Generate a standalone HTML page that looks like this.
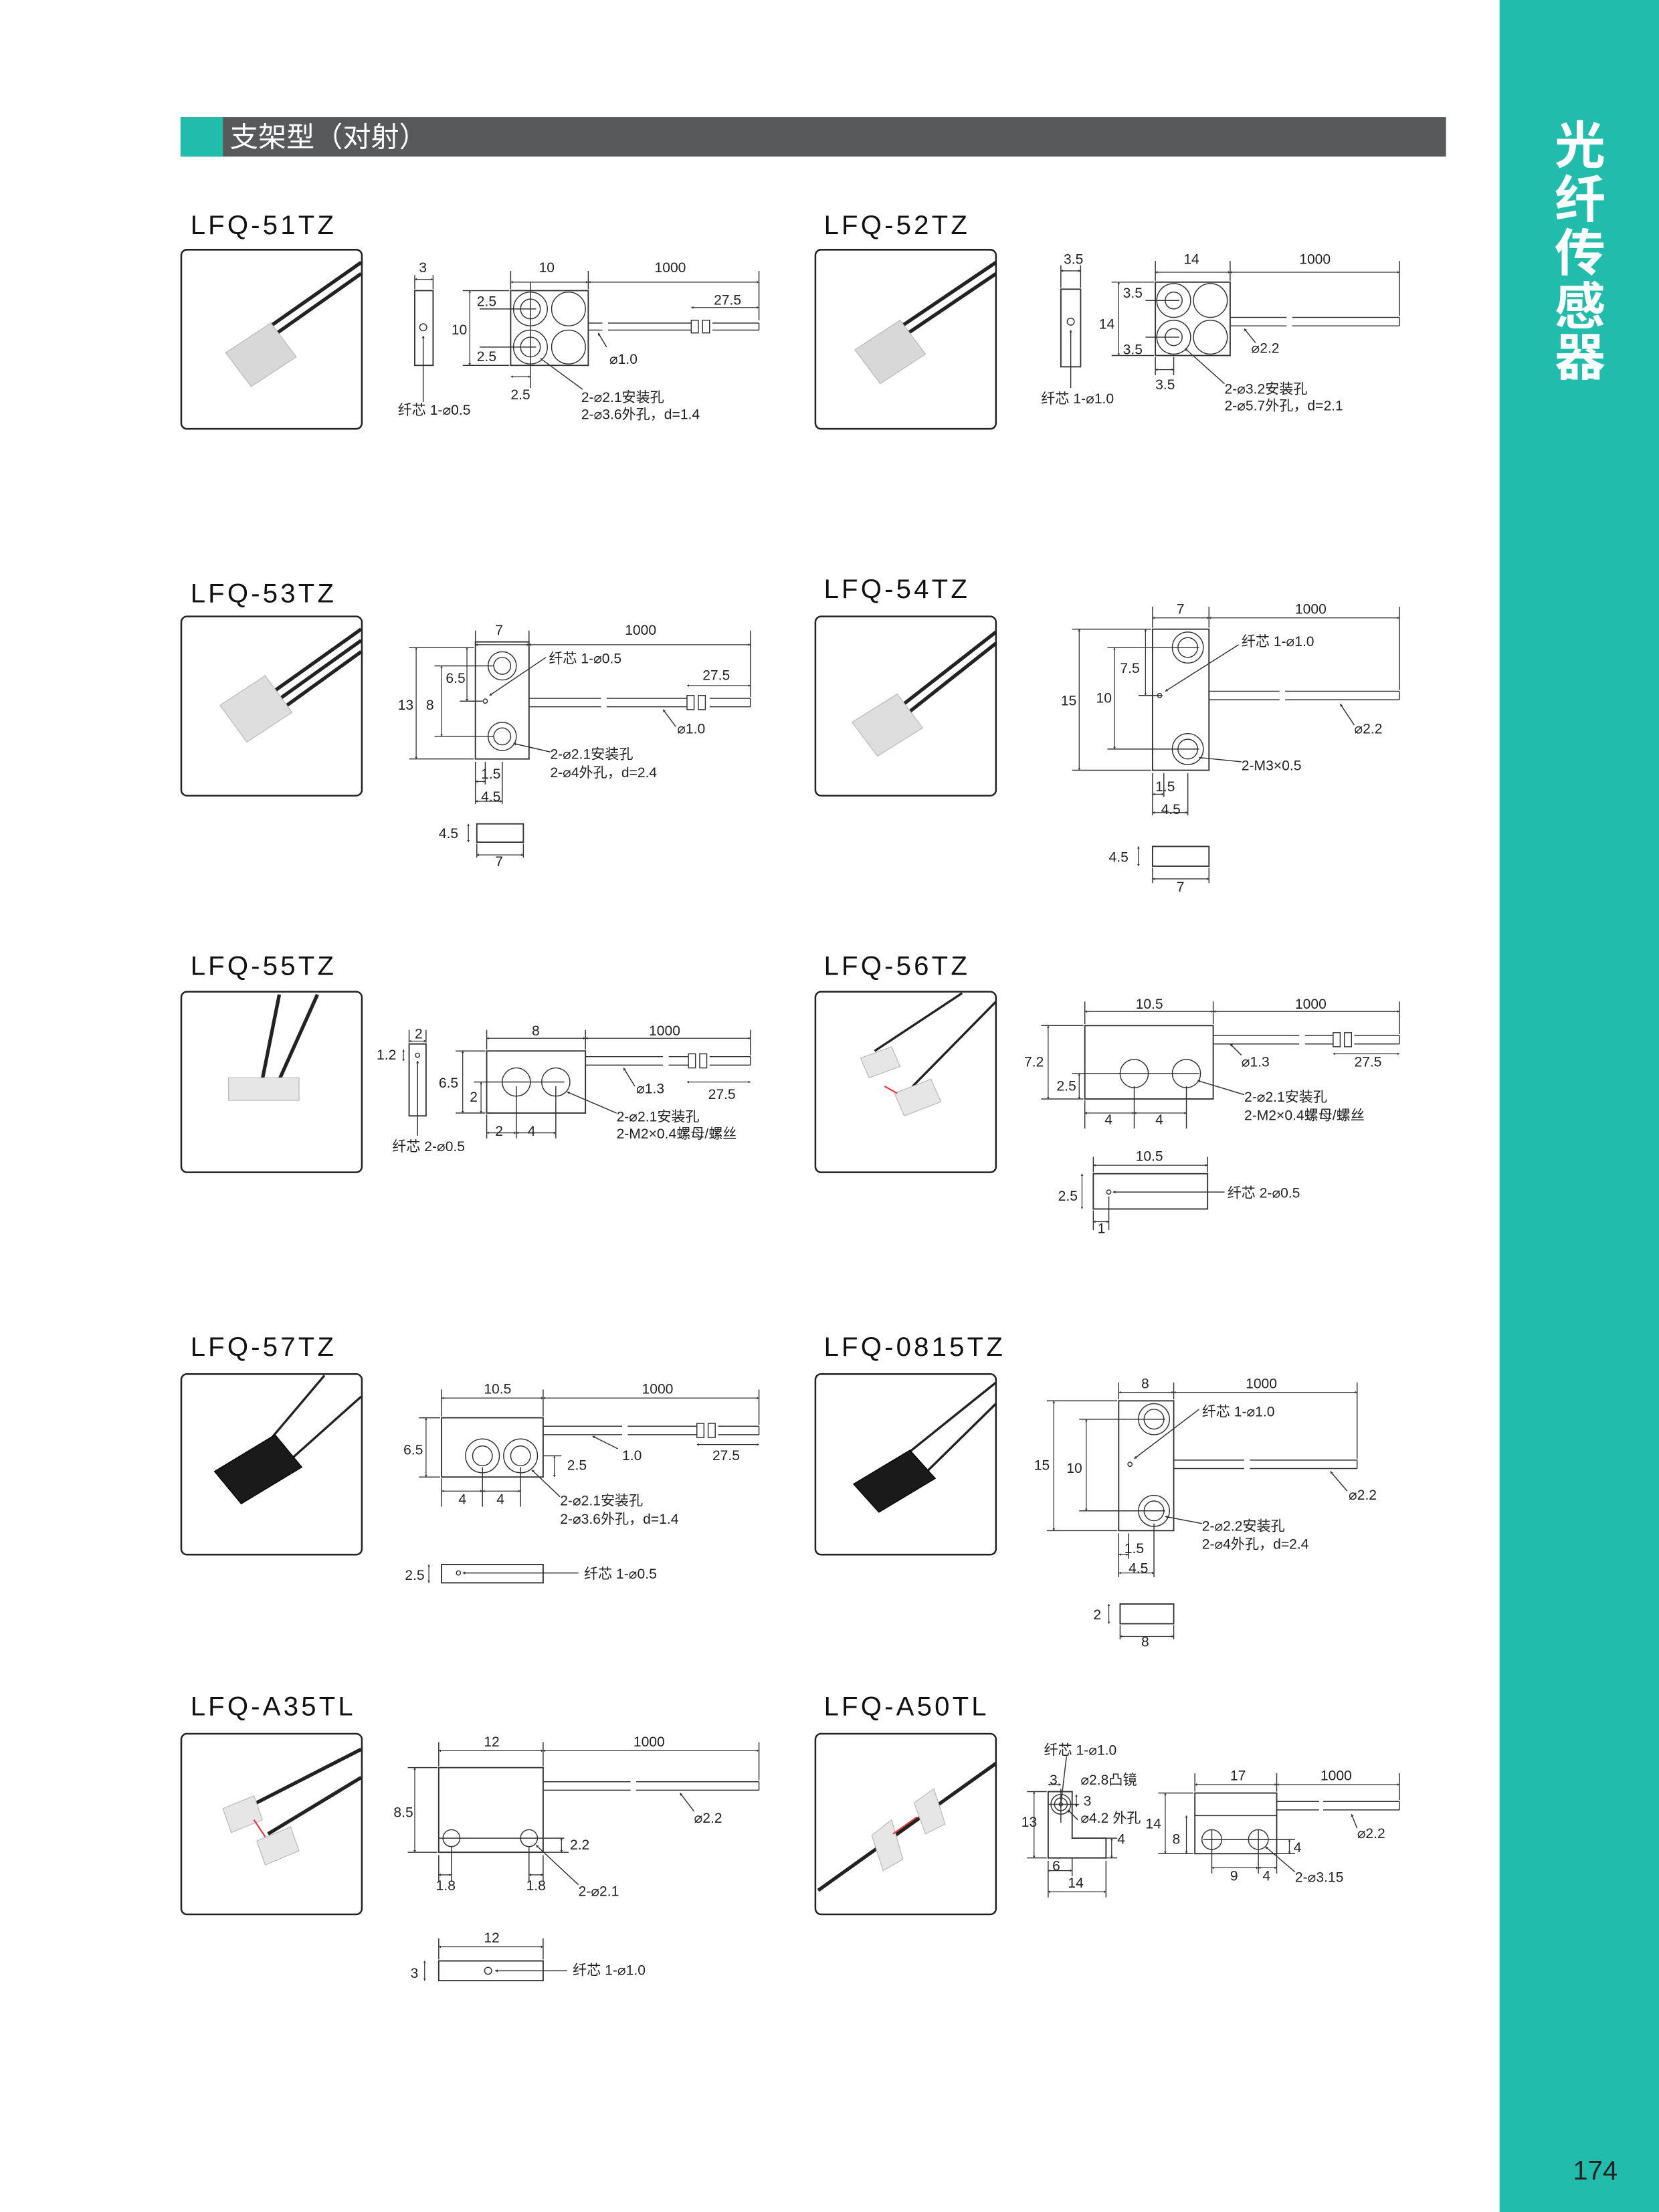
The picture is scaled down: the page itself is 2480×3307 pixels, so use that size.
<!DOCTYPE html>
<html><head><meta charset="utf-8">
<style>
html,body{margin:0;padding:0;background:#fff;}
svg{display:block;}
text{font-family:"Liberation Sans","Noto Sans CJK SC",sans-serif;fill:#222;font-size:10px;}
.t{font-size:19px;letter-spacing:2px;fill:#111;}
.l{stroke:#333;stroke-width:0.7;fill:none;}
.b{stroke:#333;stroke-width:0.9;fill:#fff;}
.d{stroke:#333;stroke-width:0.6;fill:none;marker-start:url(#a);marker-end:url(#a);}
.p{stroke:#222;stroke-width:1.2;fill:#fff;}
</style></head><body>
<svg width="2480" height="3307" viewBox="0 0 1176 1568" preserveAspectRatio="none" xmlns="http://www.w3.org/2000/svg">
<defs>
<marker id="a" viewBox="0 0 10 10" refX="5" refY="5" markerWidth="5" markerHeight="5" orient="auto-start-reverse"><path d="M0,2 L5,5 L0,8 Z" fill="#333"/></marker>
</defs>
<rect x="0" y="0" width="1176" height="1568" fill="#fff"/>
<!-- sidebar -->
<rect x="1063" y="0" width="113" height="1568" fill="#22bcad"/>
<g style="font-size:36px;font-weight:bold" >
<text x="1102" y="116" style="font-size:36px;font-weight:bold;fill:#fff">光</text>
<text x="1102" y="154" style="font-size:36px;font-weight:bold;fill:#fff">纤</text>
<text x="1102" y="192" style="font-size:36px;font-weight:bold;fill:#fff">传</text>
<text x="1102" y="230" style="font-size:36px;font-weight:bold;fill:#fff">感</text>
<text x="1102" y="266" style="font-size:36px;font-weight:bold;fill:#fff">器</text>
</g>
<text x="1115" y="1545" style="font-size:19px;fill:#222">174</text>
<!-- header -->
<rect x="128" y="83" width="897" height="28" fill="#58595b"/>
<rect x="128" y="83" width="30" height="28" fill="#22bcad"/>
<text x="163" y="104" style="font-size:20px;fill:#fff">支架型（对射）</text>

<!-- photo boxes -->
<g>
<rect x="128.5" y="177" width="128" height="127" rx="4" class="p"/>
<rect x="578" y="177" width="128" height="127" rx="4" class="p"/>
<rect x="128.5" y="437" width="128" height="127" rx="4" class="p"/>
<rect x="578" y="437" width="128" height="127" rx="4" class="p"/>
<rect x="128.5" y="703" width="128" height="128" rx="4" class="p"/>
<rect x="578" y="703" width="128" height="128" rx="4" class="p"/>
<rect x="128.5" y="974" width="128" height="128" rx="4" class="p"/>
<rect x="578" y="974" width="128" height="128" rx="4" class="p"/>
<rect x="128.5" y="1229" width="128" height="128" rx="4" class="p"/>
<rect x="578" y="1229" width="128" height="128" rx="4" class="p"/>
</g>
<!-- photo contents -->
<g stroke="#222" stroke-width="2.5" fill="none">
<path d="M182,238 L256,186 M188,242 L256,194"/>
<path d="M632,236 L706,186 M638,240 L706,194"/>
<path d="M183,498 L256,446 M189,502 L256,454 M195,506 L256,462"/>
<path d="M633,505 L706,448 M639,509 L706,456"/>
<path d="M185,770 L198,705 M195,772 L225,705"/>
<path d="M620,745 L682,704 M647,770 L706,710" stroke-width="1.6"/>
<path d="M175,1040 L230,975 M200,1040 L256,990" stroke-width="1.6"/>
<path d="M625,1045 L706,980 M650,1050 L706,995" stroke-width="1.6"/>
<path d="M168,1285 L256,1240 M190,1300 L256,1260"/>
<path d="M580,1340 L706,1250" stroke-width="2.5"/>
</g>
<g stroke="#bbb" stroke-width="0.6">
<path d="M160,250 L192,229 L210,253 L178,274 Z" fill="#d8d8d8"/>
<path d="M606,248 L638,227 L656,251 L624,272 Z" fill="#d8d8d8"/>
<path d="M156,500 L188,479 L207,505 L175,526 Z" fill="#dedede"/>
<path d="M604,512 L636,492 L654,516 L622,536 Z" fill="#dedede"/>
<rect x="162" y="764" width="50" height="16" fill="#e6e6e6"/>
<path d="M610,750 L632,742 L638,756 L616,764 Z M634,775 L660,765 L667,781 L641,791 Z" fill="#e6e6e6"/>
<path d="M152,1043 L195,1017 L214,1040 L171,1066 Z" fill="#1a1a1a" stroke="#000"/>
<path d="M605,1052 L645,1028 L663,1048 L623,1072 Z" fill="#1a1a1a" stroke="#000"/>
<path d="M158,1282 L180,1273 L186,1290 L164,1299 Z M182,1305 L206,1295 L212,1312 L188,1322 Z" fill="#e6e6e6"/>
<path d="M618,1301 L632,1290 L640,1318 L626,1326 Z M648,1278 L662,1268 L670,1293 L656,1300 Z" fill="#e6e6e6"/>
</g>
<path d="M180,1290 L188,1302" stroke="#e33" stroke-width="1"/>
<path d="M627,770 L636,775" stroke="#e33" stroke-width="1"/>
<path d="M633,1300 L650,1288" stroke="#e33" stroke-width="1"/>

<!-- titles -->
<text x="135" y="166" class="t">LFQ-51TZ</text>
<text x="584" y="166" class="t">LFQ-52TZ</text>
<text x="135" y="427" class="t">LFQ-53TZ</text>
<text x="584" y="424" class="t">LFQ-54TZ</text>
<text x="135" y="691" class="t">LFQ-55TZ</text>
<text x="584" y="691" class="t">LFQ-56TZ</text>
<text x="135" y="961" class="t">LFQ-57TZ</text>
<text x="584" y="961" class="t">LFQ-0815TZ</text>
<text x="135" y="1216" class="t">LFQ-A35TL</text>
<text x="584" y="1216" class="t">LFQ-A50TL</text>

<!-- ===== 51 ===== -->
<rect x="294" y="206" width="13" height="53" class="b"/>
<circle cx="300" cy="232" r="2.5" class="l"/>
<path d="M300,285 L300,238" class="l" marker-end="url(#a)"/>
<rect x="362" y="206" width="55" height="53" class="b"/>
<circle cx="376" cy="219" r="12" class="l"/><circle cx="376" cy="219" r="7" class="l"/>
<circle cx="403" cy="219" r="12" class="l"/>
<circle cx="376" cy="246" r="12" class="l"/><circle cx="376" cy="246" r="7" class="l"/>
<circle cx="403" cy="246" r="12" class="l"/>
<path d="M417,229 H427 M417,234 H427 M431,229 H490 M431,234 H490 M505,229 H538 M505,234 H538 M538,229 V234" class="l"/>
<rect x="490" y="227" width="5" height="9" class="l"/><rect x="498" y="227" width="5" height="9" class="l"/>
<path d="M294,198 H307" class="d"/><path d="M362,200 H417" class="d"/><path d="M417,200 H538" class="d"/><path d="M490,218 H538" class="d"/>
<path d="M294,195 V205 M307,195 V205 M362,192 V205 M417,192 V205 M538,192 V227" class="l"/>
<path d="M333,206 V259" class="d"/><path d="M328,206 H361 M328,259 H361 M340,219 H380 M340,246 H380 M376,200 V275" class="l"/>
<path d="M362,267 H376" class="d"/>
<path d="M430,246 L424,236" class="l" marker-end="url(#a)"/>
<path d="M413,276 L383,254" class="l" marker-end="url(#a)"/>
<text x="297" y="193">3</text><text x="382" y="193">10</text><text x="464" y="193">1000</text><text x="506" y="216">27.5</text>
<text x="320" y="237">10</text><text x="338" y="217">2.5</text><text x="338" y="256">2.5</text><text x="362" y="283">2.5</text>
<text x="432" y="258">⌀1.0</text>
<text x="412" y="285">2-⌀2.1安装孔</text><text x="412" y="297">2-⌀3.6外孔，d=1.4</text>
<text x="282" y="294">纤芯 1-⌀0.5</text>

<!-- ===== 52 ===== -->
<rect x="752" y="205" width="14" height="55" class="b"/>
<circle cx="759" cy="228" r="2.5" class="l"/>
<path d="M759,275 L759,234" class="l" marker-end="url(#a)"/>
<rect x="819" y="200" width="53" height="52" class="b"/>
<circle cx="832" cy="213" r="12" class="l"/><circle cx="832" cy="213" r="6" class="l"/>
<circle cx="858" cy="213" r="12" class="l"/>
<circle cx="832" cy="239" r="12" class="l"/><circle cx="832" cy="239" r="6" class="l"/>
<circle cx="858" cy="239" r="12" class="l"/>
<path d="M872,225 H912 M872,231 H912 M916,225 H992 M916,231 H992 M992,225 V231" class="l"/>
<path d="M752,192 H766" class="d"/><path d="M819,193 H872" class="d"/><path d="M872,193 H992" class="d"/>
<path d="M752,188 V204 M766,188 V204 M819,185 V199 M872,185 V199 M992,185 V224" class="l"/>
<path d="M793,200 V252" class="d"/><path d="M788,200 H818 M788,252 H818 M812,213 H836 M812,239 H836 M819,253 V266 M832,253 V266" class="l"/>
<path d="M819,262 H832" class="d"/>
<path d="M890,243 L882,233" class="l" marker-end="url(#a)"/>
<path d="M868,272 L840,247" class="l" marker-end="url(#a)"/>
<text x="754" y="187">3.5</text><text x="839" y="187">14</text><text x="921" y="187">1000</text>
<text x="779" y="233">14</text><text x="796" y="211">3.5</text><text x="796" y="251">3.5</text><text x="819" y="276">3.5</text>
<text x="887" y="250">⌀2.2</text>
<text x="868" y="279">2-⌀3.2安装孔</text><text x="868" y="291">2-⌀5.7外孔，d=2.1</text>
<text x="738" y="286">纤芯 1-⌀1.0</text>

<!-- ===== 53 ===== -->
<rect x="337" y="455" width="38" height="83" class="b"/>
<circle cx="356" cy="472" r="10" class="l"/><circle cx="356" cy="472" r="6" class="l"/>
<circle cx="356" cy="522" r="10" class="l"/><circle cx="356" cy="522" r="6" class="l"/>
<circle cx="344" cy="497" r="1.5" class="l"/>
<path d="M375,495 H426 M375,501 H426 M430,495 H487 M430,501 H487 M503,495 H532 M503,501 H532 M532,495 V501" class="l"/>
<rect x="487" y="493" width="5" height="10" class="l"/><rect x="495" y="493" width="5" height="10" class="l"/>
<path d="M337,457 H375" class="d"/><path d="M375,457 H532" class="d"/><path d="M487,486 H532" class="d"/>
<path d="M337,447 V455 M375,447 V455 M532,447 V494" class="l"/>
<path d="M295,459 V538" class="d"/><path d="M290,459 H336 M290,538 H336" class="l"/>
<path d="M313,472 V522" class="d"/><path d="M308,472 H350 M308,522 H350" class="l"/>
<path d="M331,459 V497" class="d"/><path d="M326,497 H342" class="l"/>
<path d="M337,540 V570 M344,540 V556 M356,540 V570" class="l"/>
<path d="M337,554 H344" class="d"/><path d="M337,568 H356" class="d"/>
<path d="M387,466 L347,493" class="l" marker-end="url(#a)"/>
<path d="M479,515 L470,503" class="l" marker-end="url(#a)"/>
<path d="M390,533 L364,527" class="l" marker-end="url(#a)"/>
<text x="351" y="450">7</text><text x="443" y="450">1000</text><text x="498" y="482">27.5</text>
<text x="282" y="503">13</text><text x="316" y="484">6.5</text><text x="302" y="503">8</text>
<text x="389" y="470">纤芯 1-⌀0.5</text><text x="480" y="520">⌀1.0</text>
<text x="390" y="538">2-⌀2.1安装孔</text><text x="390" y="551">2-⌀4外孔，d=2.4</text>
<text x="341" y="552">1.5</text><text x="341" y="568">4.5</text>
<rect x="338" y="584" width="33" height="13" class="b"/>
<path d="M332,584 V597" class="d"/><path d="M338,598 V608 M371,598 V608" class="l"/><path d="M338,606 H371" class="d"/>
<text x="311" y="594">4.5</text><text x="351" y="614">7</text>

<!-- ===== 54 ===== -->
<rect x="817" y="446" width="40" height="100" class="b"/>
<circle cx="842" cy="459" r="11" class="l"/><circle cx="842" cy="459" r="7" class="l"/>
<circle cx="842" cy="531" r="11" class="l"/><circle cx="842" cy="531" r="7" class="l"/>
<circle cx="822" cy="493" r="1.5" class="l"/>
<path d="M857,490 H907 M857,496 H907 M911,490 H992 M911,496 H992 M992,490 V496" class="l"/>
<path d="M817,438 H857" class="d"/><path d="M857,438 H992" class="d"/>
<path d="M817,430 V445 M857,430 V445 M992,430 V489" class="l"/>
<path d="M765,446 V546" class="d"/><path d="M760,446 H816 M760,546 H816" class="l"/>
<path d="M790,459 V531" class="d"/><path d="M785,459 H850 M785,531 H850" class="l"/>
<path d="M812,446 V493" class="d"/><path d="M807,493 H824" class="l"/>
<path d="M817,548 V578 M825,548 V565 M842,548 V578" class="l"/>
<path d="M817,563 H825" class="d"/><path d="M817,576 H842" class="d"/>
<path d="M878,457 L826,490" class="l" marker-end="url(#a)"/>
<path d="M960,514 L950,499" class="l" marker-end="url(#a)"/>
<path d="M880,540 L850,537" class="l" marker-end="url(#a)"/>
<text x="834" y="435">7</text><text x="918" y="435">1000</text>
<text x="752" y="500">15</text><text x="777" y="498">10</text><text x="794" y="477">7.5</text>
<text x="880" y="458">纤芯 1-⌀1.0</text><text x="960" y="520">⌀2.2</text><text x="880" y="546">2-M3×0.5</text>
<text x="819" y="561">1.5</text><text x="823" y="577">4.5</text>
<rect x="817" y="600" width="40" height="14" class="b"/>
<path d="M807,600 V614" class="d"/><path d="M817,615 H817 V626 M857,615 V626" class="l"/><path d="M817,623 H857" class="d"/>
<text x="786" y="611">4.5</text><text x="834" y="632">7</text>

<!-- ===== 55 ===== -->
<rect x="290" y="740" width="12" height="51" class="b"/>
<circle cx="296" cy="748" r="1.5" class="l"/>
<path d="M296,805 V752" class="l" marker-end="url(#a)"/>
<path d="M290,738 H302" class="d"/><path d="M290,730 V739 M302,730 V739" class="l"/>
<path d="M286,744 V752" class="d"/>
<rect x="345" y="745" width="70" height="44" class="b"/>
<circle cx="366" cy="767" r="10" class="l"/><circle cx="394" cy="767" r="10" class="l"/>
<path d="M415,749 H470 M415,755 H470 M474,749 H488 M474,755 H488 M503,749 H532 M503,755 H532 M532,749 V755" class="l"/>
<rect x="488" y="747" width="5" height="10" class="l"/><rect x="496" y="747" width="5" height="10" class="l"/>
<path d="M345,736 H415" class="d"/><path d="M415,736 H532" class="d"/><path d="M487,767 H532" class="d"/>
<path d="M345,730 V744 M415,730 V744 M532,730 V748" class="l"/>
<path d="M328,745 V789" class="d"/><path d="M323,745 H344 M323,789 H344" class="l"/>
<path d="M341,767 V789" class="d"/><path d="M336,767 H400" class="l"/>
<path d="M345,790 V807 M366,770 V807 M394,770 V807" class="l"/>
<path d="M345,803 H366" class="d"/><path d="M366,803 H394" class="d"/>
<path d="M450,770 L442,757" class="l" marker-end="url(#a)"/>
<path d="M437,789 L402,774" class="l" marker-end="url(#a)"/>
<text x="294" y="736">2</text><text x="267" y="751">1.2</text>
<text x="377" y="734">8</text><text x="460" y="734">1000</text><text x="502" y="779">27.5</text>
<text x="311" y="771">6.5</text><text x="333" y="781">2</text>
<text x="451" y="775">⌀1.3</text>
<text x="437" y="795">2-⌀2.1安装孔</text><text x="437" y="807">2-M2×0.4螺母/螺丝</text>
<text x="351" y="805">2</text><text x="374" y="805">4</text>
<text x="278" y="816">纤芯 2-⌀0.5</text>

<!-- ===== 56 ===== -->
<rect x="769" y="727" width="91" height="52" class="b"/>
<circle cx="804" cy="761" r="10" class="l"/><circle cx="841" cy="761" r="10" class="l"/>
<path d="M860,734 H921 M860,740 H921 M925,734 H945 M925,740 H945 M960,734 H992 M960,740 H992 M992,734 V740" class="l"/>
<rect x="945" y="732" width="5" height="10" class="l"/><rect x="953" y="732" width="5" height="10" class="l"/>
<path d="M769,717 H860" class="d"/><path d="M860,717 H992" class="d"/><path d="M945,747 H992" class="d"/>
<path d="M769,710 V726 M860,710 V726 M992,710 V733" class="l"/>
<path d="M743,727 V779" class="d"/><path d="M738,727 H768 M738,779 H768" class="l"/>
<path d="M765,761 V779" class="d"/><path d="M760,761 H850" class="l"/>
<path d="M769,780 V800 M804,770 V800 M841,770 V800" class="l"/>
<path d="M769,789 H804" class="d"/><path d="M804,789 H841" class="d"/>
<path d="M880,748 L872,740" class="l" marker-end="url(#a)"/>
<path d="M882,776 L849,766" class="l" marker-end="url(#a)"/>
<text x="805" y="715">10.5</text><text x="918" y="715">1000</text><text x="960" y="756">27.5</text>
<text x="726" y="756">7.2</text><text x="749" y="773">2.5</text><text x="880" y="756">⌀1.3</text>
<text x="783" y="797">4</text><text x="819" y="797">4</text>
<text x="882" y="781">2-⌀2.1安装孔</text><text x="882" y="794">2-M2×0.4螺母/螺丝</text>
<rect x="775" y="832" width="81" height="25" class="b"/>
<circle cx="786" cy="845" r="1.5" class="l"/>
<path d="M868,845 H789" class="l" marker-end="url(#a)"/>
<path d="M775,826 H856" class="d"/><path d="M775,820 V831 M856,820 V831" class="l"/>
<path d="M767,832 V857" class="d"/><path d="M775,858 V872 M786,848 V872" class="l"/><path d="M775,866 H786" class="d"/>
<text x="805" y="823">10.5</text><text x="750" y="851">2.5</text><text x="778" y="874">1</text>
<text x="870" y="849">纤芯 2-⌀0.5</text>

<!-- ===== 57 ===== -->
<rect x="313" y="1005" width="72" height="42" class="b"/>
<circle cx="342" cy="1032" r="12" class="l"/><circle cx="342" cy="1032" r="7" class="l"/>
<circle cx="369" cy="1032" r="12" class="l"/><circle cx="369" cy="1032" r="7" class="l"/>
<path d="M385,1011 H441 M385,1017 H441 M445,1011 H494 M445,1017 H494 M509,1011 H538 M509,1017 H538 M538,1011 V1017" class="l"/>
<rect x="494" y="1009" width="5" height="10" class="l"/><rect x="502" y="1009" width="5" height="10" class="l"/>
<path d="M313,991 H385" class="d"/><path d="M385,991 H538" class="d"/><path d="M494,1024 H538" class="d"/>
<path d="M313,985 V1004 M385,985 V1004 M538,985 V1010" class="l"/>
<path d="M302,1005 V1047" class="d"/><path d="M297,1005 H312 M297,1047 H312" class="l"/>
<path d="M313,1048 V1068 M342,1040 V1068 M369,1040 V1068" class="l"/>
<path d="M313,1057 H342" class="d"/><path d="M342,1057 H369" class="d"/>
<path d="M393,1032 V1047" class="d"/><path d="M385,1032 H398" class="l"/>
<path d="M438,1027 L420,1018" class="l" marker-end="url(#a)"/>
<path d="M397,1061 L377,1042" class="l" marker-end="url(#a)"/>
<text x="343" y="988">10.5</text><text x="455" y="988">1000</text><text x="505" y="1035">27.5</text>
<text x="286" y="1031">6.5</text><text x="441" y="1035">1.0</text><text x="402" y="1042">2.5</text>
<text x="325" y="1066">4</text><text x="352" y="1066">4</text>
<text x="397" y="1067">2-⌀2.1安装孔</text><text x="397" y="1080">2-⌀3.6外孔，d=1.4</text>
<rect x="313" y="1109" width="72" height="13" class="b"/>
<circle cx="325" cy="1115" r="1.5" class="l"/>
<path d="M410,1115 H328" class="l" marker-end="url(#a)"/>
<path d="M304,1109 V1122" class="d"/>
<text x="287" y="1120">2.5</text><text x="414" y="1119">纤芯 1-⌀0.5</text>

<!-- ===== 0815 ===== -->
<rect x="793" y="993" width="39" height="92" class="b"/>
<circle cx="818" cy="1006" r="11" class="l"/><circle cx="818" cy="1006" r="7" class="l"/>
<circle cx="818" cy="1071" r="11" class="l"/><circle cx="818" cy="1071" r="7" class="l"/>
<circle cx="801" cy="1038" r="1.5" class="l"/>
<path d="M832,1035 H882 M832,1041 H882 M886,1035 H962 M886,1041 H962 M962,1035 V1041" class="l"/>
<path d="M793,987 H832" class="d"/><path d="M832,987 H962" class="d"/>
<path d="M793,980 V992 M832,980 V992 M962,980 V1034" class="l"/>
<path d="M747,993 V1085" class="d"/><path d="M742,993 H792 M742,1085 H792" class="l"/>
<path d="M770,1006 V1071" class="d"/><path d="M765,1006 H826 M765,1071 H826" class="l"/>
<path d="M793,1087 V1118 M800,1087 V1105 M818,1080 V1118" class="l"/>
<path d="M793,1102 H800" class="d"/><path d="M793,1115 H818" class="d"/>
<path d="M850,999 L804,1034" class="l" marker-end="url(#a)"/>
<path d="M955,1057 L943,1043" class="l" marker-end="url(#a)"/>
<path d="M852,1080 L826,1075" class="l" marker-end="url(#a)"/>
<text x="809" y="984">8</text><text x="883" y="984">1000</text>
<text x="733" y="1042">15</text><text x="756" y="1044">10</text>
<text x="852" y="1004">纤芯 1-⌀1.0</text><text x="956" y="1063">⌀2.2</text>
<text x="852" y="1085">2-⌀2.2安装孔</text><text x="852" y="1098">2-⌀4外孔，d=2.4</text>
<text x="797" y="1101">1.5</text><text x="800" y="1115">4.5</text>
<rect x="794" y="1137" width="38" height="14" class="b"/>
<path d="M786,1137 V1151" class="d"/><path d="M794,1152 V1162 M832,1152 V1162" class="l"/><path d="M794,1160 H832" class="d"/>
<text x="775" y="1148">2</text><text x="809" y="1167">8</text>

<!-- ===== A35 ===== -->
<rect x="311" y="1253" width="74" height="60" class="b"/>
<circle cx="320" cy="1303" r="6" class="l"/><circle cx="375" cy="1303" r="6" class="l"/>
<path d="M311,1303 H400" class="l"/>
<path d="M385,1263 H447 M385,1269 H447 M451,1263 H538 M451,1269 H538 M538,1263 V1269" class="l"/>
<path d="M311,1241 H385" class="d"/><path d="M385,1241 H538" class="d"/>
<path d="M311,1235 V1252 M385,1235 V1252 M538,1235 V1262" class="l"/>
<path d="M294,1253 V1313" class="d"/><path d="M289,1253 H310 M289,1313 H310" class="l"/>
<path d="M398,1303 V1313" class="d"/><path d="M385,1313 H403" class="l"/>
<path d="M311,1315 V1334 M320,1309 V1334 M375,1309 V1334 M385,1315 V1334" class="l"/>
<path d="M311,1329 H320" class="d"/><path d="M375,1329 H385" class="d"/>
<path d="M492,1284 L482,1271" class="l" marker-end="url(#a)"/>
<path d="M410,1336 L380,1308" class="l" marker-end="url(#a)"/>
<text x="343" y="1238">12</text><text x="449" y="1238">1000</text>
<text x="279" y="1288">8.5</text><text x="404" y="1311">2.2</text>
<text x="309" y="1340">1.8</text><text x="373" y="1340">1.8</text>
<text x="410" y="1344">2-⌀2.1</text><text x="492" y="1292">⌀2.2</text>
<rect x="311" y="1390" width="74" height="14" class="b"/>
<circle cx="346" cy="1397" r="2.5" class="l"/>
<path d="M402,1397 H351" class="l" marker-end="url(#a)"/>
<path d="M311,1380 H385" class="d"/><path d="M311,1374 V1389 M385,1374 V1389" class="l"/>
<path d="M301,1390 V1404" class="d"/>
<text x="343" y="1377">12</text><text x="291" y="1402">3</text><text x="406" y="1400">纤芯 1-⌀1.0</text>

<!-- ===== A50 ===== -->
<path d="M743,1270 H760 V1303 H784 V1317 H743 Z" class="b"/>
<circle cx="752" cy="1279" r="7" class="l"/><circle cx="752" cy="1279" r="4.5" class="l"/><circle cx="752" cy="1279" r="1.2" class="l"/>
<path d="M743,1279 H765 M752,1268 V1292 M756,1245 L752,1279" class="l"/>
<path d="M733,1270 V1317" class="d"/><path d="M728,1270 H742 M728,1317 H742" class="l"/>
<path d="M743,1265 H752" class="d"/>
<path d="M763,1272 V1281" class="d"/>
<path d="M788,1303 V1317" class="d"/><path d="M784,1303 H792 M784,1317 H792" class="l"/>
<path d="M743,1319 V1345 M760,1317 V1330 M784,1319 V1345" class="l"/>
<path d="M743,1326 H760" class="d"/><path d="M743,1341 H784" class="d"/>
<path d="M764,1290 L757,1283" class="l" marker-end="url(#a)"/>
<text x="740" y="1244">纤芯 1-⌀1.0</text>
<text x="744" y="1265">3</text><text x="766" y="1265">⌀2.8凸镜</text><text x="768" y="1280">3</text>
<text x="766" y="1292">⌀4.2 外孔</text><text x="724" y="1295">13</text><text x="792" y="1307">4</text>
<text x="746" y="1326">6</text><text x="757" y="1338">14</text>
<rect x="847" y="1271" width="58" height="43" class="b"/>
<path d="M847,1287 H905" class="l"/>
<circle cx="859" cy="1304" r="7" class="l"/><circle cx="892" cy="1304" r="7" class="l"/>
<path d="M853,1304 H918 M859,1297 V1328 M892,1297 V1328 M905,1314 V1328" class="l"/>
<path d="M905,1277 H935 M905,1283 H935 M938,1277 H992 M938,1283 H992 M992,1277 V1283" class="l"/>
<path d="M847,1265 H905" class="d"/><path d="M905,1265 H992" class="d"/>
<path d="M847,1257 V1270 M905,1257 V1270 M992,1257 V1276" class="l"/>
<path d="M826,1271 V1314" class="d"/><path d="M821,1271 H846 M821,1314 H846" class="l"/>
<path d="M841,1287 V1314" class="d"/>
<path d="M914,1304 V1314" class="d"/><path d="M905,1314 H918" class="l"/>
<path d="M859,1324 H892" class="d"/><path d="M892,1324 H905" class="d"/>
<path d="M962,1296 L958,1286" class="l" marker-end="url(#a)"/>
<path d="M918,1327 L897,1309" class="l" marker-end="url(#a)"/>
<text x="872" y="1262">17</text><text x="936" y="1262">1000</text>
<text x="812" y="1296">14</text><text x="831" y="1307">8</text>
<text x="962" y="1303">⌀2.2</text><text x="917" y="1313">4</text>
<text x="872" y="1333">9</text><text x="895" y="1333">4</text><text x="918" y="1334">2-⌀3.15</text>
</svg>
</body></html>
